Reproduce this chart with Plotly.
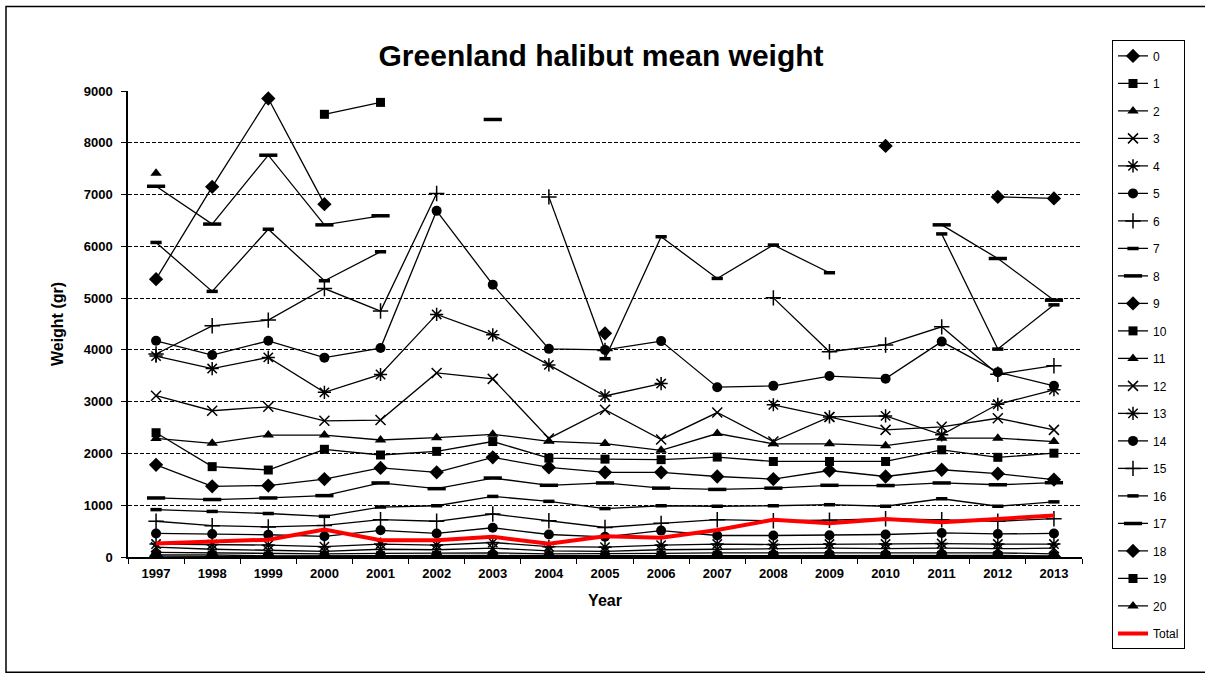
import plotly.graph_objects as go

years = [str(y) for y in range(1997, 2014)]

age_0 = [15, 10, 5, 5, 5, 5, 10, 5, 5, 5, 10, 5, 5, 5, 10, 5, 5]
age_1 = [40, 40, 20, 25, 25, 30, 30, 25, 25, 30, 35, 30, 30, 30, 35, 30, 20]
age_2 = [90, 80, 70, 60, 70, 70, 80, 60, 60, 70, 80, 80, 80, 80, 90, 80, 60]
age_3 = [190, 150, 130, 110, 150, 140, 170, 120, 110, 140, 150, 160, 170, 160, 170, 160, 170]
age_4 = [250, 240, 230, 200, 250, 230, 280, 200, 190, 230, 250, 240, 250, 250, 260, 250, 250]
age_5 = [455, 445, 430, 400, 515, 455, 565, 435, 390, 510, 415, 415, 420, 435, 465, 445, 455]
age_6 = [690, 605, 580, 610, 720, 690, 830, 700, 570, 650, 720, 700, 710, 740, 720, 690, 740]
age_7 = [915, 880, 840, 785, 965, 990, 1170, 1075, 935, 990, 980, 990, 1010, 980, 1125, 980, 1065]
age_8 = [1140, 1110, 1140, 1185, 1430, 1320, 1525, 1385, 1430, 1330, 1305, 1330, 1385, 1380, 1430, 1395, 1435]
age_9 = [1780, 1365, 1380, 1505, 1720, 1635, 1925, 1730, 1635, 1635, 1555, 1505, 1670, 1555, 1685, 1610, 1495]
age_10 = [2400, 1745, 1680, 2080, 1970, 2040, 2230, 1910, 1890, 1880, 1930, 1845, 1845, 1845, 2070, 1925, 2005]
age_11 = [2290, 2195, 2355, 2355, 2260, 2305, 2370, 2235, 2190, 2060, 2385, 2185, 2185, 2150, 2295, 2295, 2230]
age_12 = [3115, 2825, 2900, 2630, 2645, 3555, 3440, 2290, 2845, 2270, 2790, 2230, 2705, 2455, 2515, 2680, 2455]
age_13 = [3880, 3640, 3855, 3180, 3525, 4685, 4290, 3710, 3110, 3350, None, 2940, 2705, 2725, 2360, 2950, 3230]
age_14 = [4175, 3900, 4175, 3850, 4035, 6685, 5260, 4020, 4000, 4170, 3280, 3305, 3495, 3445, 4160, 3570, 3305]
age_15 = [3920, 4465, 4575, 5185, 4750, 7020, None, 6955, 3990, None, None, 5005, 3965, 4095, 4445, 3530, 3695]
age_16 = [6075, 5130, 6330, 5335, 5895, None, None, None, 3830, 6185, 5380, 6025, 5490, None, 6240, 4015, 4870]
age_17 = [7160, 6430, 7760, 6415, 6590, None, 8450, None, None, None, None, None, None, None, 6415, 5765, 4960]
age_18 = [5365, 7150, 8855, 6815, None, None, None, None, 4320, None, None, None, None, 7940, None, 6955, 6925]
age_19 = [None, None, None, 8550, 8780, None, None, None, None, None, None, None, None, None, None, None, None]
age_20 = [7410, None, None, None, None, None, None, None, None, None, None, None, None, None, None, None, None]
total = [260, 305, 335, 530, 325, 325, 390, 255, 400, 370, 520, 720, 650, 735, 670, 735, 800]

series = [age_0, age_1, age_2, age_3, age_4, age_5, age_6, age_7, age_8, age_9, age_10,
          age_11, age_12, age_13, age_14, age_15, age_16, age_17, age_18, age_19, age_20]
names = [str(i) for i in range(21)]

marker_cycle = [
    ("diamond", 11), ("square", 9), ("triangle-up", 10), ("x-thin", 10), ("asterisk", 11),
    ("circle", 10), ("cross-thin", 11), ("line-ew", 8), ("line-ew", 13),
]

fig = go.Figure()
for i, (nm, vals) in enumerate(zip(names, series)):
    sym, size = marker_cycle[i % 9]
    open_sym = sym in ("x-thin", "asterisk", "cross-thin", "line-ew")
    marker = dict(symbol=sym, size=size, color="black",
                  line=dict(color="black", width=(1.5 if sym != "line-ew" else 3.5) if open_sym else 0))
    fig.add_trace(go.Scatter(
        x=years, y=vals, name=nm, mode="lines+markers",
        line=dict(color="black", width=1.3), marker=marker,
        legendgroup=nm,
    ))

fig.add_trace(go.Scatter(
    x=years, y=total, name="Total", mode="lines",
    line=dict(color="#ff0000", width=4), legendgroup="Total",
))

L, R, T, B = 128, 1082, 90.7, 557.5
W, H = R - L, B - T

def px_x(p):
    return (p - L) / W

def px_y(p):
    return (B - p) / H

fig.update_layout(
    width=1205, height=679,
    margin=dict(l=L, r=1205 - R, t=T, b=679 - B),
    paper_bgcolor="white", plot_bgcolor="white",
    font=dict(family="Liberation Sans, Arial, sans-serif", color="black"),
    title=dict(text="<b>Greenland halibut mean weight</b>", x=0.4988, xref="container",
               y=1 - 55 / 679, yref="container", yanchor="middle",
               font=dict(size=30, color="black")),
    showlegend=True,
    legend=dict(x=px_x(1112), y=px_y(40), xanchor="left", yanchor="top",
                bordercolor="black", borderwidth=1, bgcolor="white",
                font=dict(size=12, color="black"), tracegroupgap=8.5,
                maxheight=660),
    shapes=[dict(type="rect", xref="paper", yref="paper",
                 x0=px_x(6), x1=px_x(1212), y0=px_y(673), y1=px_y(6),
                 line=dict(color="black", width=1.5), layer="below")],
)

fig.update_xaxes(
    type="category", range=[-0.5, 16.5], tickson="boundaries",
    ticks="outside", ticklen=5, tickcolor="black", tickwidth=1,
    showline=True, linecolor="black", linewidth=1.5, showgrid=False,
    ticklabelstandoff=4,
    tickfont=dict(size=13, color="black", weight="bold"),
    title=dict(text="<b>Year</b>", font=dict(size=16, color="black"), standoff=14),
)
fig.update_yaxes(
    range=[0, 9000], tickvals=list(range(0, 9001, 1000)),
    ticks="outside", ticklen=5, tickcolor="black",
    showline=True, linecolor="black", linewidth=1.5,
    showgrid=True, gridcolor="black", griddash="4px,2px", gridwidth=1,
    zeroline=False, ticklabelstandoff=6,
    tickfont=dict(size=13, color="black", weight="bold"),
    title=dict(text="<b>Weight (gr)</b>", font=dict(size=16, color="black"), standoff=16),
)

fig.write_html(
    "out.html",
    config={"displayModeBar": False},
    post_script="document.body.style.margin='0';document.body.style.overflow='hidden';",
)
